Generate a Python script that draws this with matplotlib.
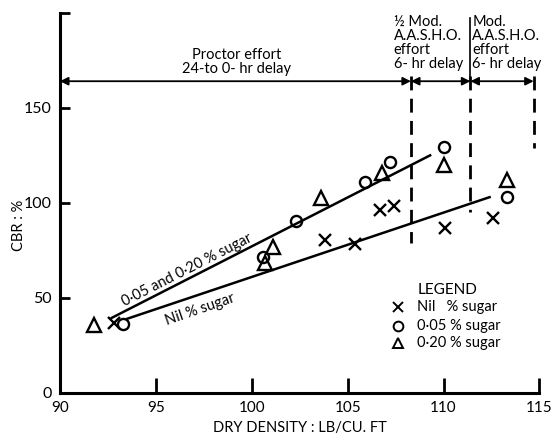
import matplotlib
matplotlib.use("Agg")
import matplotlib.pyplot as plt

plt.rcParams['font.family'] = ['Lato', 'DejaVu Sans']

# CBR vs dry density
nil_x = [92.8, 103.8, 105.4, 106.7, 107.4, 110.1, 112.6]
nil_y = [36.8, 80.5, 78.4, 96.3, 98.4, 86.8, 92.1]
s05_x = [93.3, 100.6, 102.3, 105.9, 107.2, 110.0, 113.3]
s05_y = [36.3, 71.6, 90.5, 111.0, 121.6, 129.5, 103.0]
s20_x = [91.8, 100.7, 101.1, 103.6, 106.8, 110.0, 113.3]
s20_y = [35.8, 68.4, 76.8, 102.6, 115.8, 120.0, 112.0]

# fitted lines (end points)
sugar_line_x = [92.7, 109.3]
sugar_line_y = [39.5, 125.0]
nil_line_x = [93.5, 112.4]
nil_line_y = [39.0, 103.0]

# effort zone boundaries
bounds = [108.3, 111.4, 114.7]
bound_bottoms = [79, 95, 129]
arrow_y = 164

xticks = [90, 95, 100, 105, 110, 115]
yticks = [0, 50, 100, 150]

fig = plt.figure(figsize=(5.55, 4.41), dpi=100)
ax = fig.add_axes([0.108, 0.109, 0.864, 0.862])
ax.set_xlim(90, 115)
ax.set_ylim(0, 200)

for s in ['top', 'right']:
    ax.spines[s].set_visible(False)
for s in ['left', 'bottom']:
    ax.spines[s].set_linewidth(2.2)

ax.set_xticks(xticks)
ax.set_yticks(yticks + [200])
ax.set_yticklabels([str(v) for v in yticks] + [''])
ax.tick_params(axis='x', direction='in', length=11, width=2, labelsize=11, pad=6)
ax.tick_params(axis='y', direction='in', length=7, width=2, labelsize=11.5, pad=6)

# data points
ax.plot(nil_x, nil_y, 'x', color='black', ms=8, mew=1.7, clip_on=False)
ax.plot(s05_x, s05_y, 'o', mfc='none', mec='black', ms=8, mew=1.7, clip_on=False)
ax.plot(s20_x, s20_y, '^', mfc='none', mec='black', ms=9.5, mew=1.7, clip_on=False)

ax.plot(sugar_line_x, sugar_line_y, color='black', lw=1.8)
ax.plot(nil_line_x, nil_line_y, color='black', lw=1.8)

ax.text(96.6, 64.5, '0·05 and 0·20 % sugar', rotation=27, ha='center', va='center', fontsize=10.5)
ax.text(97.3, 44.0, 'Nil % sugar', rotation=19, ha='center', va='center', fontsize=10.5)

# dashed boundaries
for bx, by in zip(bounds, bound_bottoms):
    ax.plot([bx, bx], [arrow_y + 3, by], color='black', lw=2, ls=(0, (5, 3)))
ax.plot([bounds[1], bounds[1]], [arrow_y, 197], color='black', lw=1.2)

# effort arrows
starts = [90] + bounds[:-1]
for a, b in zip(starts, bounds):
    ax.annotate('', xy=(a, arrow_y), xytext=(b, arrow_y),
                arrowprops=dict(arrowstyle='<|-|>', color='black', lw=1.3,
                                shrinkA=0, shrinkB=0, mutation_scale=12))

ax.text(99.2, 166.5, 'Proctor effort\n24-to 0- hr delay', ha='center', va='bottom',
        fontsize=10.5, linespacing=1.05)
ax.text(107.4, 199, '½ Mod.\nA.A.S.H.O.\neffort\n6- hr delay', ha='left', va='top',
        fontsize=10.5, linespacing=1.02)
ax.text(111.5, 199, 'Mod.\nA.A.S.H.O.\neffort\n6- hr delay', ha='left', va='top',
        fontsize=10.5, linespacing=1.02)

# legend drawn by hand
ax.text(110.2, 54, 'LEGEND', ha='center', va='center', fontsize=11)
leg_rows = [45.3, 35.3, 26.3]
leg_labels = ['Nil   % sugar', '0·05 % sugar', '0·20 % sugar']
leg_markers = [dict(marker='x', color='black'),
               dict(marker='o', mfc='none', mec='black'),
               dict(marker='^', mfc='none', mec='black')]
for ry, lab, mk in zip(leg_rows, leg_labels, leg_markers):
    ax.plot([107.6], [ry], ls='none', ms=7, mew=1.4, **mk)
    ax.text(108.6, ry, lab, ha='left', va='center', fontsize=10.5)

fig.text(0.035, 0.49, 'CBR : %', rotation=90, ha='center', va='center', fontsize=10.5)
fig.text(0.54, 0.03, 'DRY DENSITY : LB/CU. FT', ha='center', va='center', fontsize=10.5)

fig.savefig('out.png', dpi=100)
